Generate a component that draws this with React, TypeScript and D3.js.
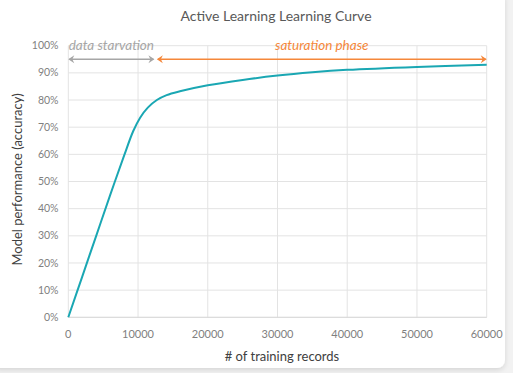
import React from "react";
import * as d3 from "d3";

const xRecords = [0, 2000, 4000, 6000, 8000, 9300, 10300, 11400, 12700, 14100, 16000, 20000, 25000, 30000, 35000, 40000, 50000, 60000];
const accuracy = [0, 0.15, 0.30, 0.45, 0.595, 0.685, 0.735, 0.772, 0.80, 0.818, 0.832, 0.854, 0.874, 0.89, 0.902, 0.911, 0.922, 0.93];
const xTicks = [0, 10000, 20000, 30000, 40000, 50000, 60000];
const yTicks = [0, 0.1, 0.2, 0.3, 0.4, 0.5, 0.6, 0.7, 0.8, 0.9, 1.0];
const phases = [
  { label: "data starvation", from: 0, to: 12350, color: "#a6a6a6" },
  { label: "saturation phase", from: 12700, to: 60000, color: "#f5873a" },
];
const arrowLevel = 0.95;

const W = 513, H = 373;
const font = "Lato, 'Open Sans', sans-serif";

export default function App() {
  const x = d3.scaleLinear().domain([0, 60000]).range([68.3, 486.7]);
  const y = d3.scaleLinear().domain([0, 1]).range([317.3, 45.7]);
  const line = d3.line<number>().x((_, i) => x(xRecords[i])).y((d) => y(d)).curve(d3.curveCatmullRom.alpha(0.5));
  const fmt = d3.format(".0%");

  const arrow = (x1: number, x2: number, yy: number, color: string, key: string) => {
    const h = 4, w = 6;
    return (
      <g key={key}>
        <line x1={x1 + 1} x2={x2 - 1} y1={yy} y2={yy} stroke={color} strokeWidth={1.6} />
        <path d={`M${x1 + w},${yy - h} L${x1},${yy} L${x1 + w},${yy + h} L${x1 + w - 2},${yy} Z`} fill={color} />
        <path d={`M${x2 - w},${yy - h} L${x2},${yy} L${x2 - w},${yy + h} L${x2 - w + 2},${yy} Z`} fill={color} />
      </g>
    );
  };

  return (
    <svg width={W} height={H} style={{ position: "absolute", left: 0, top: 0, background: "#f2f2f2" }} fontFamily={font}>
      <defs>
        <filter id="sh" x="-5%" y="-5%" width="110%" height="115%">
          <feDropShadow dx="0" dy="2" stdDeviation="2.5" floodColor="#000" floodOpacity="0.12" />
        </filter>
      </defs>
      <rect x={-8} y={-8} width={513} height={376} rx={8} fill="#ffffff" filter="url(#sh)" />
      <text x={276} y={21} textAnchor="middle" fontSize={14} fill="#595959">Active Learning Learning Curve</text>

      {yTicks.map((t) => (
        <g key={"y" + t}>
          <line x1={x(0)} x2={x(60000)} y1={y(t)} y2={y(t)} stroke="#e3e3e3" strokeWidth={1} />
          <text x={58.5} y={y(t) + 3.6} textAnchor="end" fontSize={10.5} fill="#7f7f7f">{fmt(t)}</text>
        </g>
      ))}
      {xTicks.map((t) => (
        <g key={"x" + t}>
          <line x1={x(t)} x2={x(t)} y1={y(0)} y2={y(1)} stroke="#e3e3e3" strokeWidth={1} />
          <text x={x(t)} y={338} textAnchor="middle" fontSize={11} fill="#7f7f7f">{t}</text>
        </g>
      ))}
      <line x1={x(0)} x2={x(60000)} y1={y(0)} y2={y(0)} stroke="#d9d9d9" />

      <text x={0} y={0} transform={`translate(22,${y(0.5) - 2}) rotate(-90)`} textAnchor="middle" fontSize={13} fill="#404040">Model performance (accuracy)</text>
      <text x={282} y={361} textAnchor="middle" fontSize={13} fill="#404040"># of training records</text>

      <path d={line(accuracy) || ""} fill="none" stroke="#1aa7b3" strokeWidth={2} />

      {phases.map((p, i) => (
        <g key={p.label}>
          {arrow(x(p.from), x(p.to), y(arrowLevel), p.color, "a" + i)}
          <text x={(x(p.from) + x(p.to)) / 2} y={50} textAnchor="middle" fontSize={13.5} fontStyle="italic" fill={p.color}>{p.label}</text>
        </g>
      ))}
    </svg>
  );
}
